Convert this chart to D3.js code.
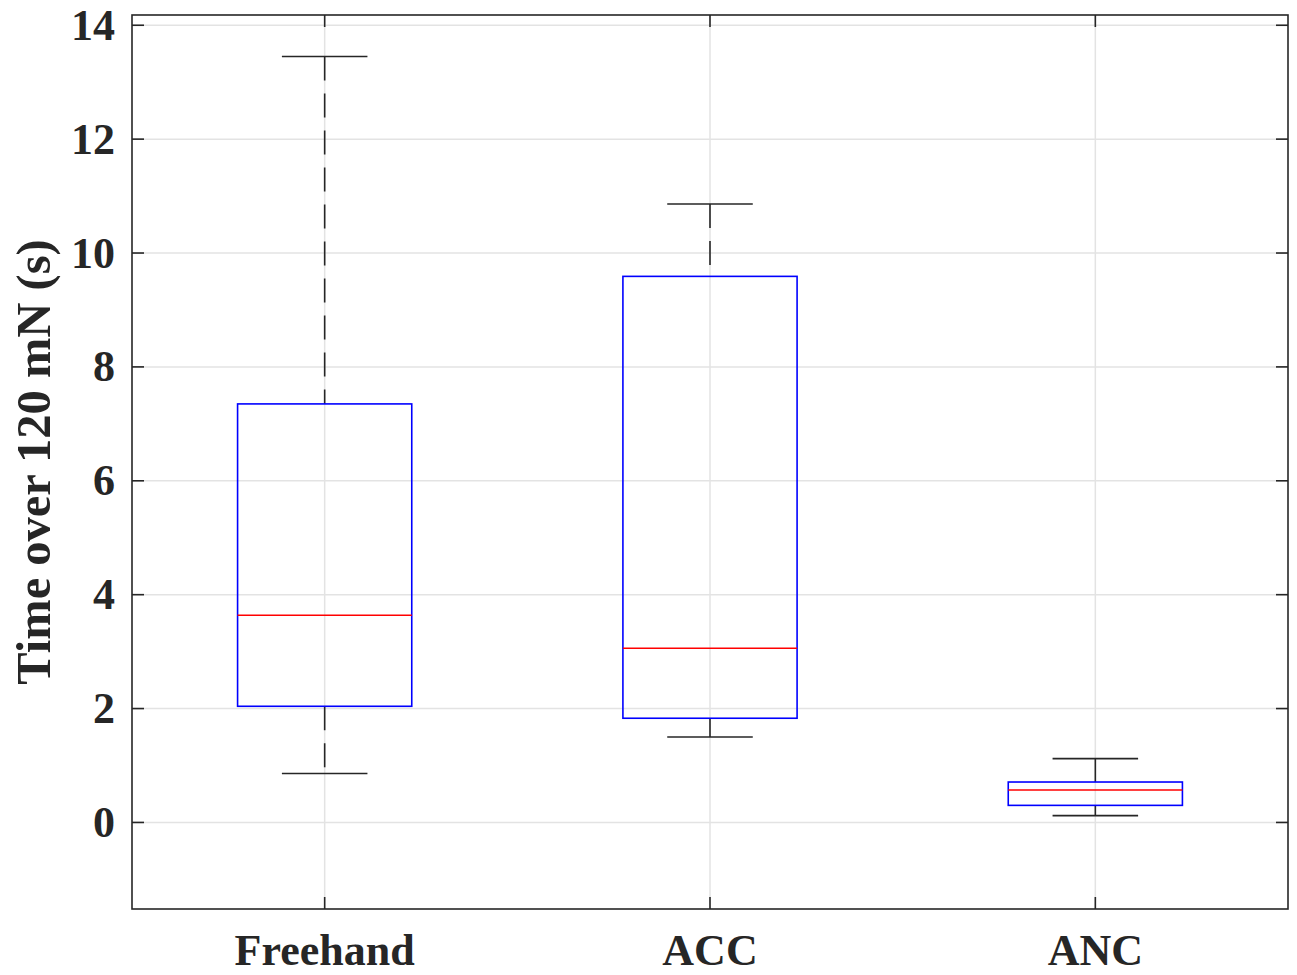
<!DOCTYPE html>
<html>
<head>
<meta charset="utf-8">
<script src="https://cdn.jsdelivr.net/npm/d3@7"></script>
<style>
  body { margin: 0; background: #fff; }
  svg text { font-family: "Liberation Serif", "Times New Roman", serif; font-weight: bold; fill: #262626; }
</style>
</head>
<body>
<svg id="chart" width="1297" height="975"></svg>
<script>
// boxplot summary values
const categories = ["Freehand", "ACC", "ANC"];
const lowerWhisker = [0.86, 1.50, 0.12];
const q1 = [2.04, 1.83, 0.30];
const median = [3.64, 3.06, 0.57];
const q3 = [7.35, 9.59, 0.71];
const upperWhisker = [13.45, 10.86, 1.12];
const yTicks = [0, 2, 4, 6, 8, 10, 12, 14];

const width = 1297, height = 975;
const margin = { left: 132, right: 9, top: 15, bottom: 66 };
const svg = d3.select("#chart");

const x = d3.scaleLinear()
  .domain([0.5, categories.length + 0.5])
  .range([margin.left, width - margin.right]);
const y = d3.scaleLinear()
  .domain([-1.52, 14.18])
  .range([height - margin.bottom, margin.top]);

const x0 = x.range()[0], x1 = x.range()[1];
const y0 = y.range()[0], y1 = y.range()[1];

// grid
const grid = svg.append("g").attr("stroke", "#e3e3e3").attr("stroke-width", 1.5);
yTicks.forEach(t => {
  grid.append("line").attr("x1", x0).attr("x2", x1).attr("y1", y(t)).attr("y2", y(t));
});
categories.forEach((c, i) => {
  grid.append("line").attr("x1", x(i + 1)).attr("x2", x(i + 1)).attr("y1", y0).attr("y2", y1);
});

// boxes
const boxW = 0.452, capW = 0.222;
const g = svg.append("g");
categories.forEach((c, i) => {
  const cx = x(i + 1);
  const half = (x(1 + boxW / 2) - x(1));
  const capHalf = (x(1 + capW / 2) - x(1));
  // whiskers (dashed)
  g.append("line").attr("x1", cx).attr("x2", cx)
    .attr("y1", y(upperWhisker[i])).attr("y2", y(q3[i]))
    .attr("stroke", "#262626").attr("stroke-width", 1.6).attr("stroke-dasharray", "24,13");
  g.append("line").attr("x1", cx).attr("x2", cx)
    .attr("y1", y(q1[i])).attr("y2", y(lowerWhisker[i]))
    .attr("stroke", "#262626").attr("stroke-width", 1.6).attr("stroke-dasharray", "24,13");
  // caps
  [upperWhisker[i], lowerWhisker[i]].forEach(v => {
    g.append("line").attr("x1", cx - capHalf).attr("x2", cx + capHalf)
      .attr("y1", y(v)).attr("y2", y(v))
      .attr("stroke", "#262626").attr("stroke-width", 1.6);
  });
  // box
  g.append("rect")
    .attr("x", cx - half).attr("width", 2 * half)
    .attr("y", y(q3[i])).attr("height", y(q1[i]) - y(q3[i]))
    .attr("fill", "none").attr("stroke", "#0000ff").attr("stroke-width", 1.6);
  // median
  g.append("line").attr("x1", cx - half).attr("x2", cx + half)
    .attr("y1", y(median[i])).attr("y2", y(median[i]))
    .attr("stroke", "#ff0000").attr("stroke-width", 1.6);
});

// axes frame and ticks
const axisColor = "#262626";
svg.append("rect")
  .attr("x", x0).attr("y", y1).attr("width", x1 - x0).attr("height", y0 - y1)
  .attr("fill", "none").attr("stroke", axisColor).attr("stroke-width", 1.6);

const tickLen = 12;
yTicks.forEach(t => {
  svg.append("line").attr("x1", x0).attr("x2", x0 + tickLen).attr("y1", y(t)).attr("y2", y(t))
    .attr("stroke", axisColor).attr("stroke-width", 1.6);
  svg.append("line").attr("x1", x1).attr("x2", x1 - tickLen).attr("y1", y(t)).attr("y2", y(t))
    .attr("stroke", axisColor).attr("stroke-width", 1.6);
  svg.append("text").attr("x", x0 - 17).attr("y", y(t))
    .attr("text-anchor", "end").attr("dominant-baseline", "central")
    .style("font-size", "44px").text(t);
});
categories.forEach((c, i) => {
  svg.append("line").attr("x1", x(i + 1)).attr("x2", x(i + 1)).attr("y1", y0).attr("y2", y0 - tickLen)
    .attr("stroke", axisColor).attr("stroke-width", 1.6);
  svg.append("line").attr("x1", x(i + 1)).attr("x2", x(i + 1)).attr("y1", y1).attr("y2", y1 + tickLen)
    .attr("stroke", axisColor).attr("stroke-width", 1.6);
  svg.append("text").attr("x", x(i + 1)).attr("y", 965)
    .attr("text-anchor", "middle")
    .style("font-size", "44px").text(c);
});

// y label
svg.append("text")
  .attr("transform", `translate(50, ${(y0 + y1) / 2}) rotate(-90)`)
  .attr("text-anchor", "middle")
  .style("font-size", "48.5px")
  .text("Time over 120 mN (s)");
</script>
</body>
</html>
